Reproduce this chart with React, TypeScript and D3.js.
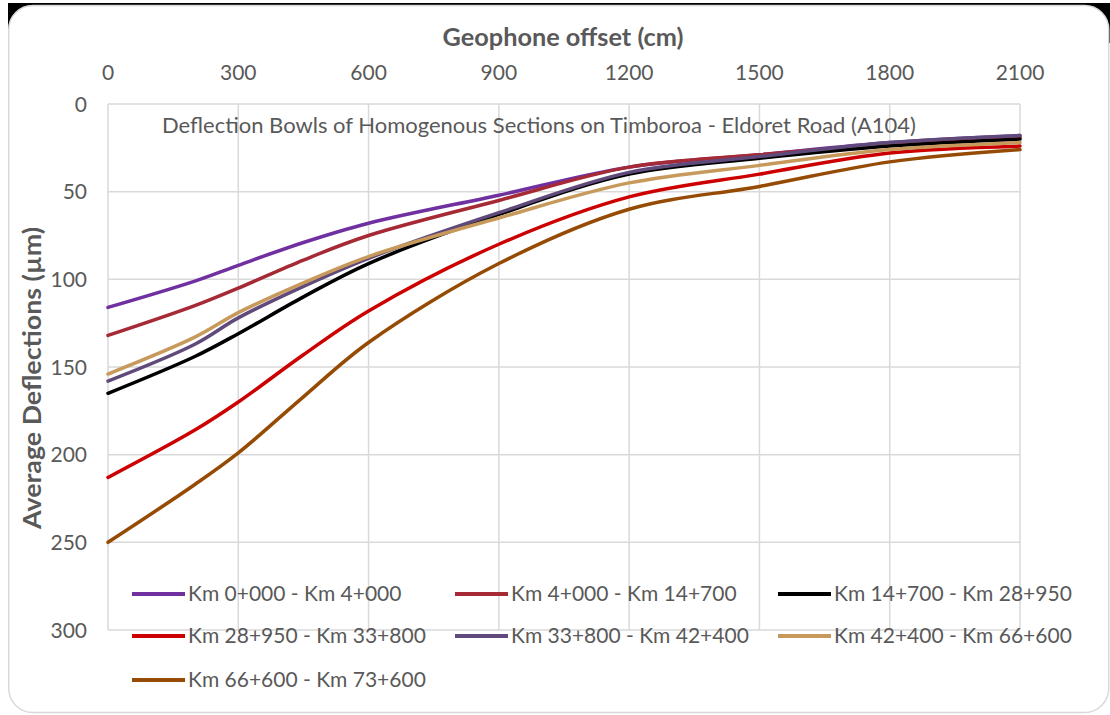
import React from "react";
import * as d3 from "d3";

const offsets = [0, 200, 300, 450, 600, 900, 1200, 1500, 1800, 2100];
const seriesNames = [
  "Km 0+000 - Km 4+000",
  "Km 4+000 - Km 14+700",
  "Km 14+700 - Km 28+950",
  "Km 28+950 - Km 33+800",
  "Km 33+800 - Km 42+400",
  "Km 42+400 - Km 66+600",
  "Km 66+600 - Km 73+600",
];
const seriesColors = ["#7030A0", "#A52A35", "#000000", "#CC0000", "#604A7B", "#C79A5C", "#964B05"];
const s0 = [116, 101, 92, 79, 68, 52, 36, 29, 22, 18];
const s1 = [132, 115, 105, 89, 75, 55, 36, 29, 23, 19];
const s2 = [165, 144, 131, 110, 91, 63, 40, 31, 24, 20];
const s3 = [213, 186, 170, 143, 118, 80, 53, 40, 28, 24];
const s4 = [158, 137, 122, 104, 88, 62, 39, 30, 22, 18];
const s5 = [154, 133, 119, 102, 87, 65, 45, 35, 26, 22];
const s6 = [250, 217, 199, 167, 136, 91, 60, 47, 33, 26];
const seriesValues = [s0, s1, s2, s3, s4, s5, s6];
const xTicks = [0, 300, 600, 900, 1200, 1500, 1800, 2100];
const yTicks = [0, 50, 100, 150, 200, 250, 300];

const chartTitle = "Deflection Bowls of Homogenous Sections on Timboroa - Eldoret Road (A104)";
const xTitle = "Geophone offset (cm)";
const yTitle = "Average Deflections (µm)";

const FONT = "Lato, 'Open Sans', sans-serif";
const TXT = "#595959";
const GRID = "#d9d9d9";

export default function App() {
  const x = d3.scaleLinear().domain([0, 2100]).range([108, 1020]);
  const y = d3.scaleLinear().domain([0, 300]).range([104, 630]);
  const line = d3
    .line<[number, number]>()
    .x((d) => x(d[0]))
    .y((d) => y(d[1]))
    .curve(d3.curveCatmullRom.alpha(0.5));

  const legendCols = [132, 455, 778];
  const legendRows = [594, 636, 680];

  return (
    <svg
      width={1110}
      height={715}
      style={{ position: "absolute", left: 0, top: 0 }}
      fontFamily={FONT}
    >
      <rect x={0} y={0} width={1110} height={715} fill="#ffffff" />
      <rect x={8} y={3} width={1102} height={40} fill="#000000" />
      <rect
        x={8.75}
        y={5.5}
        width={1100}
        height={707}
        rx={24}
        ry={24}
        fill="#ffffff"
        stroke={GRID}
        strokeWidth={1.5}
      />
      {xTicks.map((t) => (
        <line key={"gx" + t} x1={x(t)} x2={x(t)} y1={y(0)} y2={y(300)} stroke={GRID} strokeWidth={1.5} />
      ))}
      {yTicks.map((t) => (
        <line key={"gy" + t} x1={x(0)} x2={x(2100)} y1={y(t)} y2={y(t)} stroke={GRID} strokeWidth={1.5} />
      ))}
      {xTicks.map((t) => (
        <text key={"tx" + t} x={x(t)} y={80} textAnchor="middle" fontSize={21} fill={TXT}>
          {t}
        </text>
      ))}
      {yTicks.map((t) => (
        <text key={"ty" + t} x={87} y={y(t) + 7.5} textAnchor="end" fontSize={21} fill={TXT}>
          {t}
        </text>
      ))}
      <text
        x={563}
        y={46}
        textAnchor="middle"
        fontSize={24}
        fontWeight="bold"
        fill={TXT}
        textLength={241}
        lengthAdjust="spacingAndGlyphs"
      >
        {xTitle}
      </text>
      <text
        transform={`translate(41, 378) rotate(-90)`}
        textAnchor="middle"
        fontSize={24}
        fontWeight="bold"
        fill={TXT}
        textLength={302}
        lengthAdjust="spacingAndGlyphs"
      >
        {yTitle}
      </text>
      <text x={539} y={133} textAnchor="middle" fontSize={22} fill={TXT}>
        {chartTitle}
      </text>
      {seriesValues.map((vals, i) => (
        <path
          key={"s" + i}
          d={line(offsets.map((o, j) => [o, vals[j]] as [number, number])) || ""}
          fill="none"
          stroke={seriesColors[i]}
          strokeWidth={3.5}
          strokeLinejoin="round"
          strokeLinecap="round"
        />
      ))}
      {seriesNames.map((name, i) => {
        const cx = legendCols[i % 3];
        const cy = legendRows[Math.floor(i / 3)];
        return (
          <g key={"lg" + i}>
            <line x1={cx} x2={cx + 53} y1={cy} y2={cy} stroke={seriesColors[i]} strokeWidth={4} />
            <text x={cx + 56} y={cy + 7} fontSize={21} fill={TXT}>
              {name}
            </text>
          </g>
        );
      })}
    </svg>
  );
}
